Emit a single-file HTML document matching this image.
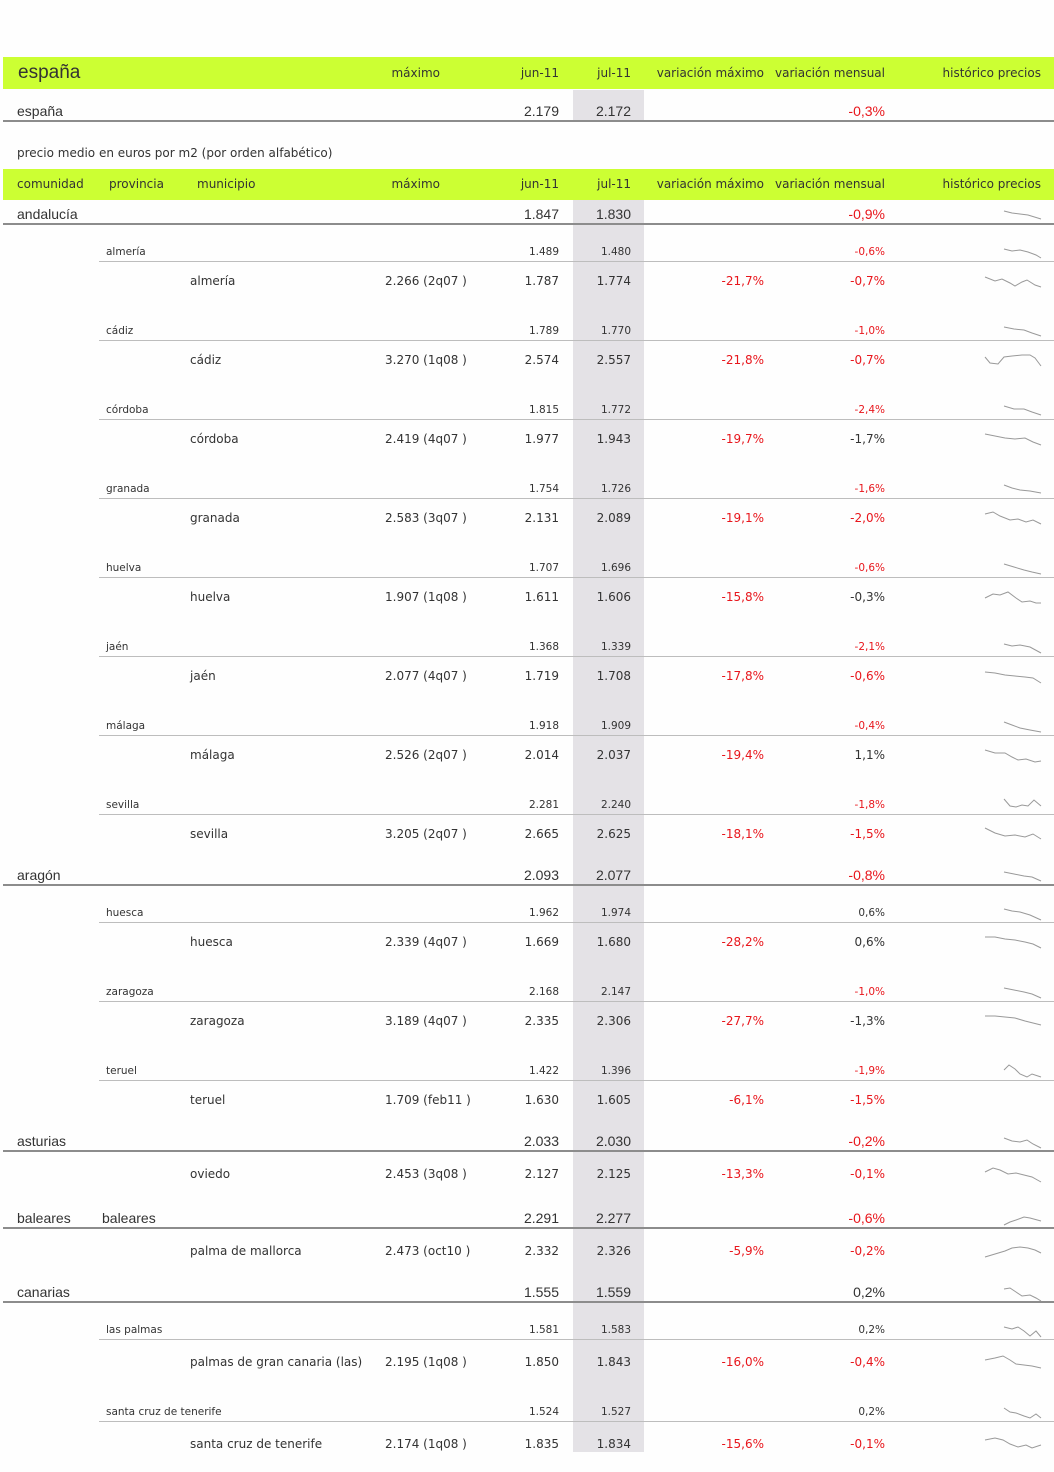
<!DOCTYPE html>
<html><head><meta charset="utf-8"><style>
body{margin:0;width:1054px;height:1472px;background:#fefefe;position:relative;overflow:hidden;font-family:"DejaVu Sans","Liberation Sans",sans-serif;color:#333;}
.a{position:absolute;line-height:16px;white-space:nowrap;font-size:12px;}
.g{position:absolute;left:3px;width:1051px;background:#ccff33;}
.col{position:absolute;left:573px;width:71px;background:#e4e2e6;}
.L{position:absolute;left:3px;width:1051px;height:2px;background:#8c8c8c;}
.l{position:absolute;left:99px;width:955px;height:1px;background:#bdbdbd;}
.r{color:#e8161c}
.h{font-size:12px;color:#333}
.p{font-size:10.5px}
.c{font-size:14px;font-family:"Liberation Sans",sans-serif}
svg{position:absolute}
</style></head><body>
<div class="g" style="top:57px;height:32px"></div>
<div class="g" style="top:169px;height:31px"></div>
<div class="col" style="top:90px;height:30px"></div>
<div class="col" style="top:200px;height:1252px"></div>
<div class="a" style="left:18px;top:62px;font-size:19px;line-height:22px;font-family:'Liberation Sans',sans-serif">españa</div>
<div class="a h" style="right:614px;top:65px">máximo</div>
<div class="a h" style="right:495px;top:65px">jun-11</div>
<div class="a h" style="right:423px;top:65px">jul-11</div>
<div class="a h" style="right:290px;top:65px">variación máximo</div>
<div class="a h" style="right:169px;top:65px">variación mensual</div>
<div class="a h" style="right:13px;top:65px">histórico precios</div>
<div class="a c" style="left:17px;top:103px">españa</div>
<div class="a c" style="right:495px;top:103px">2.179</div>
<div class="a c" style="right:423px;top:103px">2.172</div>
<div class="a c r" style="right:169px;top:103px">-0,3%</div>
<div class="L" style="top:120px"></div>
<div class="a" style="left:17px;top:145px">precio medio en euros por m2 (por orden alfabético)</div>
<div class="a h" style="left:17px;top:176px">comunidad</div>
<div class="a h" style="left:109px;top:176px">provincia</div>
<div class="a h" style="left:197px;top:176px">municipio</div>
<div class="a h" style="right:614px;top:176px">máximo</div>
<div class="a h" style="right:495px;top:176px">jun-11</div>
<div class="a h" style="right:423px;top:176px">jul-11</div>
<div class="a h" style="right:290px;top:176px">variación máximo</div>
<div class="a h" style="right:169px;top:176px">variación mensual</div>
<div class="a h" style="right:13px;top:176px">histórico precios</div>

<div class="a c" style="left:17px;top:206px">andalucía</div><div class="a c" style="right:495px;top:206px">1.847</div><div class="a c" style="right:423px;top:206px">1.830</div><div class="a c r" style="right:169px;top:206px">-0,9%</div><div class="L" style="top:223px"></div>
<div class="a c" style="left:17px;top:867px">aragón</div><div class="a c" style="right:495px;top:867px">2.093</div><div class="a c" style="right:423px;top:867px">2.077</div><div class="a c r" style="right:169px;top:867px">-0,8%</div><div class="L" style="top:884px"></div>
<div class="a c" style="left:17px;top:1133px">asturias</div><div class="a c" style="right:495px;top:1133px">2.033</div><div class="a c" style="right:423px;top:1133px">2.030</div><div class="a c r" style="right:169px;top:1133px">-0,2%</div><div class="L" style="top:1150px"></div>
<div class="a c" style="left:17px;top:1210px">baleares</div><div class="a c" style="left:102px;top:1210px">baleares</div><div class="a c" style="right:495px;top:1210px">2.291</div><div class="a c" style="right:423px;top:1210px">2.277</div><div class="a c r" style="right:169px;top:1210px">-0,6%</div><div class="L" style="top:1227px"></div>
<div class="a c" style="left:17px;top:1284px">canarias</div><div class="a c" style="right:495px;top:1284px">1.555</div><div class="a c" style="right:423px;top:1284px">1.559</div><div class="a c" style="right:169px;top:1284px">0,2%</div><div class="L" style="top:1301px"></div>

<div class="a p" style="left:106px;top:244px">almería</div><div class="a p" style="right:495px;top:244px">1.489</div><div class="a p" style="right:423px;top:244px">1.480</div><div class="a p r" style="right:169px;top:244px">-0,6%</div><div class="l" style="top:261px"></div>
<div class="a p" style="left:106px;top:323px">cádiz</div><div class="a p" style="right:495px;top:323px">1.789</div><div class="a p" style="right:423px;top:323px">1.770</div><div class="a p r" style="right:169px;top:323px">-1,0%</div><div class="l" style="top:340px"></div>
<div class="a p" style="left:106px;top:402px">córdoba</div><div class="a p" style="right:495px;top:402px">1.815</div><div class="a p" style="right:423px;top:402px">1.772</div><div class="a p r" style="right:169px;top:402px">-2,4%</div><div class="l" style="top:419px"></div>
<div class="a p" style="left:106px;top:481px">granada</div><div class="a p" style="right:495px;top:481px">1.754</div><div class="a p" style="right:423px;top:481px">1.726</div><div class="a p r" style="right:169px;top:481px">-1,6%</div><div class="l" style="top:498px"></div>
<div class="a p" style="left:106px;top:560px">huelva</div><div class="a p" style="right:495px;top:560px">1.707</div><div class="a p" style="right:423px;top:560px">1.696</div><div class="a p r" style="right:169px;top:560px">-0,6%</div><div class="l" style="top:577px"></div>
<div class="a p" style="left:106px;top:639px">jaén</div><div class="a p" style="right:495px;top:639px">1.368</div><div class="a p" style="right:423px;top:639px">1.339</div><div class="a p r" style="right:169px;top:639px">-2,1%</div><div class="l" style="top:656px"></div>
<div class="a p" style="left:106px;top:718px">málaga</div><div class="a p" style="right:495px;top:718px">1.918</div><div class="a p" style="right:423px;top:718px">1.909</div><div class="a p r" style="right:169px;top:718px">-0,4%</div><div class="l" style="top:735px"></div>
<div class="a p" style="left:106px;top:797px">sevilla</div><div class="a p" style="right:495px;top:797px">2.281</div><div class="a p" style="right:423px;top:797px">2.240</div><div class="a p r" style="right:169px;top:797px">-1,8%</div><div class="l" style="top:814px"></div>
<div class="a p" style="left:106px;top:905px">huesca</div><div class="a p" style="right:495px;top:905px">1.962</div><div class="a p" style="right:423px;top:905px">1.974</div><div class="a p" style="right:169px;top:905px">0,6%</div><div class="l" style="top:922px"></div>
<div class="a p" style="left:106px;top:984px">zaragoza</div><div class="a p" style="right:495px;top:984px">2.168</div><div class="a p" style="right:423px;top:984px">2.147</div><div class="a p r" style="right:169px;top:984px">-1,0%</div><div class="l" style="top:1001px"></div>
<div class="a p" style="left:106px;top:1063px">teruel</div><div class="a p" style="right:495px;top:1063px">1.422</div><div class="a p" style="right:423px;top:1063px">1.396</div><div class="a p r" style="right:169px;top:1063px">-1,9%</div><div class="l" style="top:1080px"></div>
<div class="a p" style="left:106px;top:1322px">las palmas</div><div class="a p" style="right:495px;top:1322px">1.581</div><div class="a p" style="right:423px;top:1322px">1.583</div><div class="a p" style="right:169px;top:1322px">0,2%</div><div class="l" style="top:1339px"></div>
<div class="a p" style="left:106px;top:1404px">santa cruz de tenerife</div><div class="a p" style="right:495px;top:1404px">1.524</div><div class="a p" style="right:423px;top:1404px">1.527</div><div class="a p" style="right:169px;top:1404px">0,2%</div><div class="l" style="top:1421px"></div>

<div class="a" style="left:190px;top:273px">almería</div><div class="a" style="left:385px;top:273px">2.266 (2q07 )</div><div class="a" style="right:495px;top:273px">1.787</div><div class="a" style="right:423px;top:273px">1.774</div><div class="a r" style="right:290px;top:273px">-21,7%</div><div class="a r" style="right:169px;top:273px">-0,7%</div>
<div class="a" style="left:190px;top:352px">cádiz</div><div class="a" style="left:385px;top:352px">3.270 (1q08 )</div><div class="a" style="right:495px;top:352px">2.574</div><div class="a" style="right:423px;top:352px">2.557</div><div class="a r" style="right:290px;top:352px">-21,8%</div><div class="a r" style="right:169px;top:352px">-0,7%</div>
<div class="a" style="left:190px;top:431px">córdoba</div><div class="a" style="left:385px;top:431px">2.419 (4q07 )</div><div class="a" style="right:495px;top:431px">1.977</div><div class="a" style="right:423px;top:431px">1.943</div><div class="a r" style="right:290px;top:431px">-19,7%</div><div class="a" style="right:169px;top:431px">-1,7%</div>
<div class="a" style="left:190px;top:510px">granada</div><div class="a" style="left:385px;top:510px">2.583 (3q07 )</div><div class="a" style="right:495px;top:510px">2.131</div><div class="a" style="right:423px;top:510px">2.089</div><div class="a r" style="right:290px;top:510px">-19,1%</div><div class="a r" style="right:169px;top:510px">-2,0%</div>
<div class="a" style="left:190px;top:589px">huelva</div><div class="a" style="left:385px;top:589px">1.907 (1q08 )</div><div class="a" style="right:495px;top:589px">1.611</div><div class="a" style="right:423px;top:589px">1.606</div><div class="a r" style="right:290px;top:589px">-15,8%</div><div class="a" style="right:169px;top:589px">-0,3%</div>
<div class="a" style="left:190px;top:668px">jaén</div><div class="a" style="left:385px;top:668px">2.077 (4q07 )</div><div class="a" style="right:495px;top:668px">1.719</div><div class="a" style="right:423px;top:668px">1.708</div><div class="a r" style="right:290px;top:668px">-17,8%</div><div class="a r" style="right:169px;top:668px">-0,6%</div>
<div class="a" style="left:190px;top:747px">málaga</div><div class="a" style="left:385px;top:747px">2.526 (2q07 )</div><div class="a" style="right:495px;top:747px">2.014</div><div class="a" style="right:423px;top:747px">2.037</div><div class="a r" style="right:290px;top:747px">-19,4%</div><div class="a" style="right:169px;top:747px">1,1%</div>
<div class="a" style="left:190px;top:826px">sevilla</div><div class="a" style="left:385px;top:826px">3.205 (2q07 )</div><div class="a" style="right:495px;top:826px">2.665</div><div class="a" style="right:423px;top:826px">2.625</div><div class="a r" style="right:290px;top:826px">-18,1%</div><div class="a r" style="right:169px;top:826px">-1,5%</div>
<div class="a" style="left:190px;top:934px">huesca</div><div class="a" style="left:385px;top:934px">2.339 (4q07 )</div><div class="a" style="right:495px;top:934px">1.669</div><div class="a" style="right:423px;top:934px">1.680</div><div class="a r" style="right:290px;top:934px">-28,2%</div><div class="a" style="right:169px;top:934px">0,6%</div>
<div class="a" style="left:190px;top:1013px">zaragoza</div><div class="a" style="left:385px;top:1013px">3.189 (4q07 )</div><div class="a" style="right:495px;top:1013px">2.335</div><div class="a" style="right:423px;top:1013px">2.306</div><div class="a r" style="right:290px;top:1013px">-27,7%</div><div class="a" style="right:169px;top:1013px">-1,3%</div>
<div class="a" style="left:190px;top:1092px">teruel</div><div class="a" style="left:385px;top:1092px">1.709 (feb11 )</div><div class="a" style="right:495px;top:1092px">1.630</div><div class="a" style="right:423px;top:1092px">1.605</div><div class="a r" style="right:290px;top:1092px">-6,1%</div><div class="a r" style="right:169px;top:1092px">-1,5%</div>
<div class="a" style="left:190px;top:1166px">oviedo</div><div class="a" style="left:385px;top:1166px">2.453 (3q08 )</div><div class="a" style="right:495px;top:1166px">2.127</div><div class="a" style="right:423px;top:1166px">2.125</div><div class="a r" style="right:290px;top:1166px">-13,3%</div><div class="a r" style="right:169px;top:1166px">-0,1%</div>
<div class="a" style="left:190px;top:1243px">palma de mallorca</div><div class="a" style="left:385px;top:1243px">2.473 (oct10 )</div><div class="a" style="right:495px;top:1243px">2.332</div><div class="a" style="right:423px;top:1243px">2.326</div><div class="a r" style="right:290px;top:1243px">-5,9%</div><div class="a r" style="right:169px;top:1243px">-0,2%</div>
<div class="a" style="left:190px;top:1354px">palmas de gran canaria (las)</div><div class="a" style="left:385px;top:1354px">2.195 (1q08 )</div><div class="a" style="right:495px;top:1354px">1.850</div><div class="a" style="right:423px;top:1354px">1.843</div><div class="a r" style="right:290px;top:1354px">-16,0%</div><div class="a r" style="right:169px;top:1354px">-0,4%</div>
<div class="a" style="left:190px;top:1436px">santa cruz de tenerife</div><div class="a" style="left:385px;top:1436px">2.174 (1q08 )</div><div class="a" style="right:495px;top:1436px">1.835</div><div class="a" style="right:423px;top:1436px">1.834</div><div class="a r" style="right:290px;top:1436px">-15,6%</div><div class="a r" style="right:169px;top:1436px">-0,1%</div>

<svg width="1054" height="1472" style="left:0;top:0" fill="none" stroke="#999" stroke-width="1">
<polyline points="1004,211 1012,213 1020,214 1028,215 1041,219"/>
<polyline points="1004,249 1012,251 1020,250 1028,252 1036,255 1041,258"/>
<polyline points="985,277 995,281 1002,279 1010,283 1015,286 1022,282 1027,280 1035,285 1041,287"/>
<polyline points="1004,327 1014,329 1024,330 1032,333 1041,336"/>
<polyline points="985,357 990,363 998,364 1004,357 1012,356 1022,355 1030,355 1035,358 1041,366"/>
<polyline points="1004,406 1014,409 1024,409 1032,412 1041,415"/>
<polyline points="985,434 995,436 1005,438 1015,439 1025,438 1033,442 1041,445"/>
<polyline points="1004,485 1012,488 1020,490 1030,491 1041,493"/>
<polyline points="985,514 993,512 1000,516 1010,520 1018,519 1026,522 1033,520 1041,524"/>
<polyline points="1004,564 1014,567 1024,570 1032,572 1041,574"/>
<polyline points="985,598 993,594 1000,595 1008,592 1016,598 1022,602 1030,601 1036,603 1041,603"/>
<polyline points="1004,644 1012,646 1020,645 1030,647 1041,653"/>
<polyline points="985,672 995,673 1005,675 1015,676 1025,677 1033,678 1041,683"/>
<polyline points="1004,722 1012,725 1020,728 1030,730 1041,732"/>
<polyline points="985,750 995,753 1005,753 1012,757 1018,760 1026,759 1035,762 1041,761"/>
<polyline points="1004,799 1010,806 1016,807 1022,805 1028,806 1034,800 1041,806"/>
<polyline points="985,828 995,833 1005,836 1015,835 1025,837 1033,834 1041,839"/>
<polyline points="1004,872 1014,874 1024,876 1032,877 1041,881"/>
<polyline points="1004,909 1012,911 1020,912 1030,915 1041,920"/>
<polyline points="985,937 995,937 1005,939 1015,940 1025,942 1033,944 1041,948"/>
<polyline points="1004,988 1014,990 1024,992 1032,994 1041,998"/>
<polyline points="985,1016 995,1016 1005,1017 1015,1018 1025,1021 1033,1023 1041,1025"/>
<polyline points="1004,1070 1009,1065 1015,1069 1020,1074 1027,1077 1032,1074 1041,1077"/>
<polyline points="1004,1138 1012,1141 1020,1142 1027,1140 1033,1144 1041,1148"/>
<polyline points="985,1172 993,1168 1000,1170 1008,1174 1016,1173 1024,1175 1032,1177 1041,1182"/>
<polyline points="1004,1225 1010,1222 1016,1220 1024,1217 1030,1218 1041,1221"/>
<polyline points="985,1257 995,1254 1005,1251 1012,1248 1020,1247 1028,1248 1035,1250 1041,1253"/>
<polyline points="1004,1289 1010,1288 1016,1292 1022,1296 1030,1295 1036,1298 1041,1301"/>
<polyline points="1004,1327 1012,1329 1018,1327 1024,1331 1030,1336 1036,1331 1041,1337"/>
<polyline points="985,1360 995,1358 1003,1356 1010,1360 1016,1364 1024,1365 1032,1366 1041,1368"/>
<polyline points="1004,1408 1010,1412 1016,1413 1024,1416 1030,1418 1036,1414 1041,1418"/>
<polyline points="985,1440 995,1438 1003,1440 1010,1444 1018,1447 1026,1445 1032,1448 1041,1445"/>
</svg>
</body></html>
